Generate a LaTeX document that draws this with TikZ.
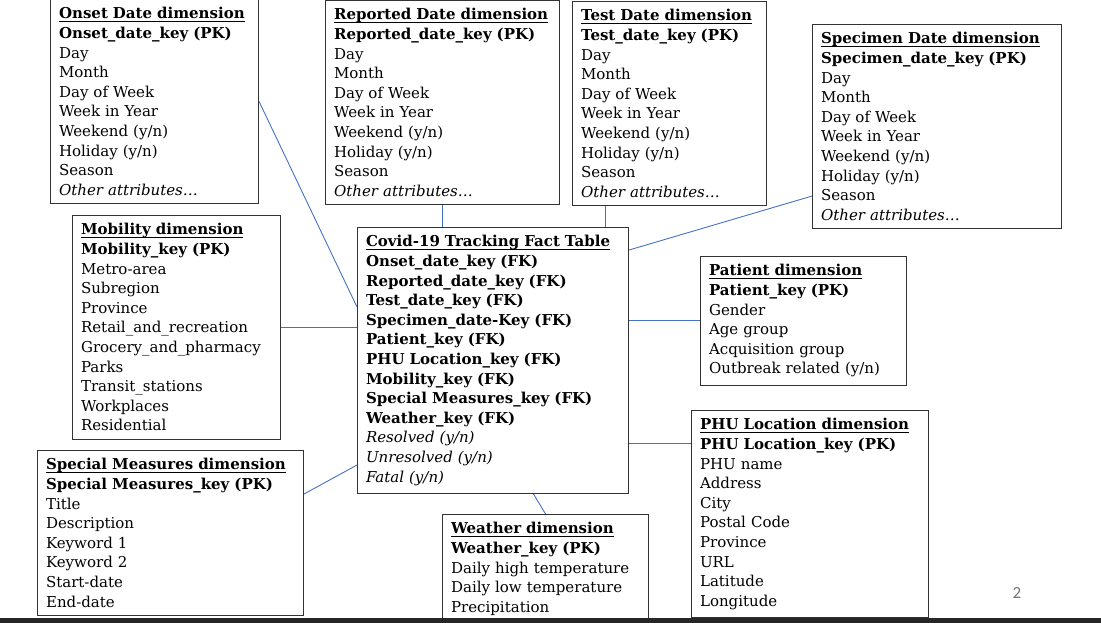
\documentclass[tikz,border=0pt]{standalone}
\usepackage{fontspec}
\setmainfont{DejaVu Serif}
\newfontfamily\slidefont{Carlito}
\definecolor{linkblue}{HTML}{4472C4}
\newsavebox\titlebox
\newcommand{\dimtitle}[1]{\sbox\titlebox{\textbf{#1}}%
    \rlap{\rule[-2.6pt]{\wd\titlebox}{0.9pt}}\usebox\titlebox}

\begin{document}
\begin{tikzpicture}[x=1pt, y=-1pt,
    dimbox/.style={draw=black!80, line width=1.1pt, anchor=north west, align=left,
        text width=#1, inner xsep=8.5pt, inner ysep=8pt,
        font=\fontsize{15}{19.6}\selectfont},
    link/.style={draw=linkblue, line width=0.9pt}]
    \useasboundingbox (0,0) rectangle (1101,623);

    % Date dimensions along the top
    \node[dimbox=191pt] (onset) at (50,-1) {\dimtitle{Onset Date dimension}\\
        \textbf{Onset\_date\_key (PK)}\\ Day\\ Month\\ Day of Week\\ Week in Year\\
        Weekend (y/n)\\ Holiday (y/n)\\ Season\\ \textit{Other attributes\dots}};
    \node[dimbox=217pt] (reported) at (325,0) {\dimtitle{Reported Date dimension}\\
        \textbf{Reported\_date\_key (PK)}\\ Day\\ Month\\ Day of Week\\ Week in Year\\
        Weekend (y/n)\\ Holiday (y/n)\\ Season\\ \textit{Other attributes\dots}};
    \node[dimbox=177pt] (test) at (572,1) {\dimtitle{Test Date dimension}\\
        \textbf{Test\_date\_key (PK)}\\ Day\\ Month\\ Day of Week\\ Week in Year\\
        Weekend (y/n)\\ Holiday (y/n)\\ Season\\ \textit{Other attributes\dots}};
    \node[dimbox=232pt] (specimen) at (812,24) {\dimtitle{Specimen Date dimension}\\
        \textbf{Specimen\_date\_key (PK)}\\ Day\\ Month\\ Day of Week\\ Week in Year\\
        Weekend (y/n)\\ Holiday (y/n)\\ Season\\ \textit{Other attributes\dots}};

    % Fact table
    \node[dimbox=254pt] (fact) at (357,227) {\dimtitle{Covid-19 Tracking Fact Table}\\
        \textbf{Onset\_date\_key (FK)}\\ \textbf{Reported\_date\_key (FK)}\\
        \textbf{Test\_date\_key (FK)}\\ \textbf{Specimen\_date-Key (FK)}\\
        \textbf{Patient\_key (FK)}\\ \textbf{PHU Location\_key (FK)}\\
        \textbf{Mobility\_key (FK)}\\ \textbf{Special Measures\_key (FK)}\\
        \textbf{Weather\_key (FK)}\\ \textit{Resolved (y/n)}\\
        \textit{Unresolved (y/n)}\\ \textit{Fatal (y/n)}};

    % Other dimensions
    \node[dimbox=191pt] (mobility) at (72,215) {\dimtitle{Mobility dimension}\\
        \textbf{Mobility\_key (PK)}\\ Metro-area\\ Subregion\\ Province\\
        Retail\_and\_recreation\\ Grocery\_and\_pharmacy\\ Parks\\
        Transit\_stations\\ Workplaces\\ Residential};
    \node[dimbox=189pt] (patient) at (700,256) {\dimtitle{Patient dimension}\\
        \textbf{Patient\_key (PK)}\\ Gender\\ Age group\\ Acquisition group\\
        Outbreak related (y/n)};
    \node[dimbox=220pt] (phu) at (691,410) {\dimtitle{PHU Location dimension}\\
        \textbf{PHU Location\_key (PK)}\\ PHU name\\ Address\\ City\\ Postal Code\\
        Province\\ URL\\ Latitude\\ Longitude};
    \node[dimbox=249pt] (special) at (37,450) {\dimtitle{Special Measures dimension}\\
        \textbf{Special Measures\_key (PK)}\\ Title\\ Description\\ Keyword 1\\
        Keyword 2\\ Start-date\\ End-date};
    \node[dimbox=189pt] (weather) at (442,514) {\dimtitle{Weather dimension}\\
        \textbf{Weather\_key (PK)}\\ Daily high temperature\\
        Daily low temperature\\ Precipitation\\ \phantom{x}};

    % Links to the fact table
    \draw[link] (onset.east) -- ([yshift=53.5pt]fact.west);
    \draw[link] (reported.south) -- (reported.south |- fact.north);
    \draw[link] ([xshift=-64pt]test.south) coordinate (testfoot)
        -- (testfoot |- fact.north);
    \draw[link] ([yshift=-69.5pt]specimen.west) -- ([yshift=110.5pt]fact.east);
    \draw[link] (mobility.east) -- (mobility.east -| fact.west);
    \draw[link] (patient.west) -- (patient.west -| fact.east);
    \draw[link] ([yshift=71pt]phu.west) coordinate (phuside)
        -- (phuside -| fact.east);
    \draw[link] ([yshift=39pt]special.east) -- ([yshift=-104.5pt]fact.west);
    \draw[link] (weather.north) -- ([xshift=40.5pt]fact.south);

    % Slide footer
    \fill[black!85] (0,618) rectangle (1101,623);
    \node[font=\slidefont\fontsize{17}{19}\selectfont, text=black!55] (pagenum)
        at (1017,593) {2};
\end{tikzpicture}
\end{document}
